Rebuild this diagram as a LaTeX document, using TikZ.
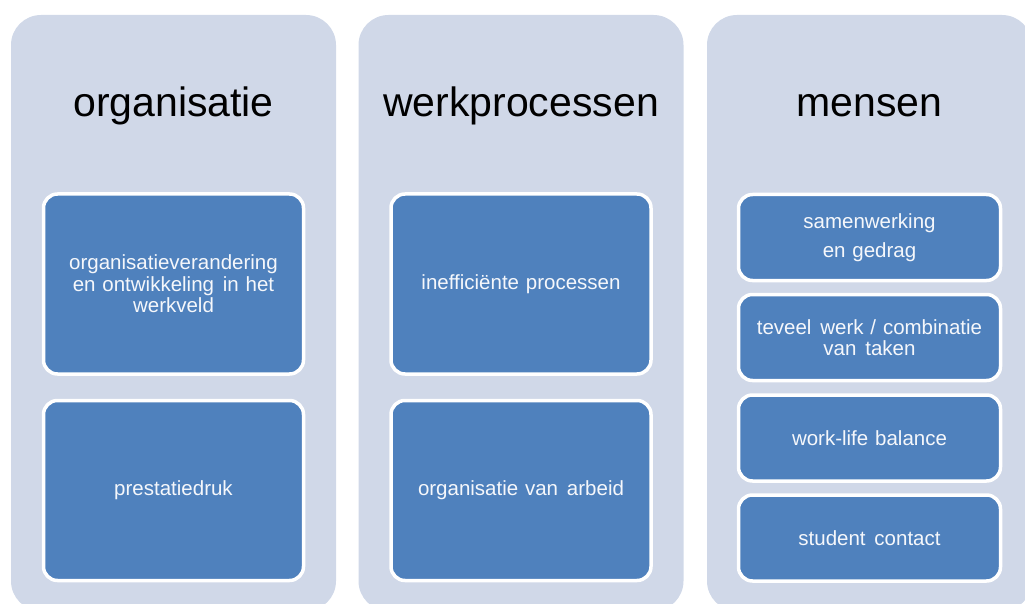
\documentclass[tikz,border=0pt]{standalone}
\usepackage{fontspec}
\setmainfont{Liberation Sans}
\definecolor{paneel}{HTML}{D0D8E8}
\definecolor{blok}{HTML}{4F81BD}
\newcommand{\ruim}{\ \kern2pt}
\begin{document}
\begin{tikzpicture}[x=1pt,y=-1pt,line join=round,
	paneel/.style={fill=paneel,rounded corners=30pt,minimum width=325pt,minimum height=596pt,inner sep=0pt},
	kop/.style={font=\fontsize{41}{41}\selectfont,anchor=base},
	blok/.style={draw=white,line width=3.5pt,fill=blok,rounded corners=14pt,text=white!94!blok,align=center,font=\fontsize{20.5}{21.5}\selectfont,inner sep=0pt},
	groot/.style={blok,minimum width=260pt,minimum height=180pt,text width=250pt},
	klein/.style={blok,minimum width=262pt,minimum height=86pt,text width=258pt}]
	%==afmetingen
	\def\xa{173.5}
	\def\xb{521}
	\def\xc{869.5}
	%==============
	\useasboundingbox (0,0) rectangle (1025,604);
	\clip (0,0) rectangle (1025,604);
	% kolommen
	\node[paneel] (P1) at (\xa,313) {};
	\node[paneel] (P2) at (\xb,313) {};
	\node[paneel] (P3) at (\xc,313) {};
	\node[kop] (K1) at (\xa,117) {organisatie};
	\node[kop] (K2) at (\xb,117) {werkprocessen};
	\node[kop] (K3) at (\xc,117) {mensen};
	% organisatie
	\node[groot] (A1) at (\xa,284) {organisatieverandering\\en ontwikkeling\ruim in het\\werkveld};
	\node[groot] (A2) at (\xa,490.5) {prestatiedruk};
	% werkprocessen
	\node[groot] (B1) at (\xb,284) {inefficiënte processen};
	\node[groot] (B2) at (\xb,490.5) {organisatie van\ruim arbeid};
	% mensen
	\node[klein] (C1) at (\xc,237.5) {samenwerking\\[8pt]en gedrag};
	\node[klein] (C2) at (\xc,337.5) {teveel\ruim werk / combinatie\\van\ruim taken};
	\node[klein] (C3) at (\xc,438) {work-life balance};
	\node[klein] (C4) at (\xc,538) {student\ruim contact};
\end{tikzpicture}
\end{document}
